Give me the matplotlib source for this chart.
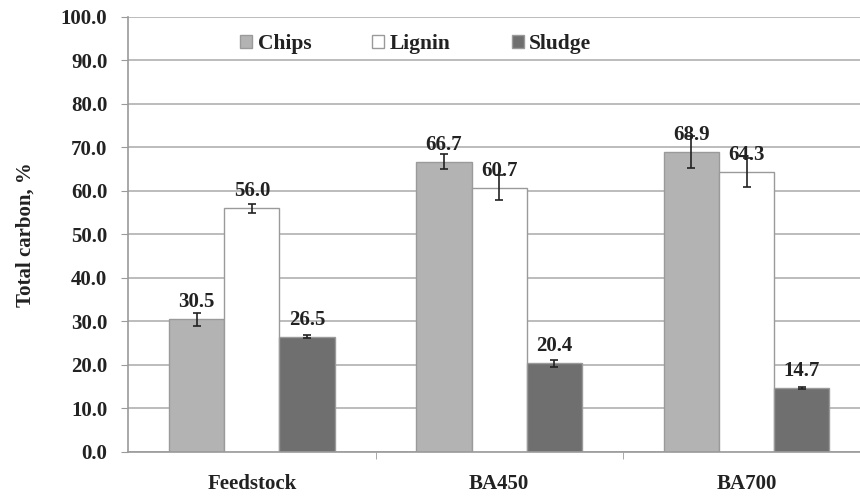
import matplotlib.pyplot as plt
import numpy as np

categories = ["Feedstock", "BA450", "BA700"]
series = ["Chips", "Lignin", "Sludge"]
chips = [30.5, 66.7, 68.9]
lignin = [56.0, 60.7, 64.3]
sludge = [26.5, 20.4, 14.7]
chips_err = [1.5, 1.7, 3.6]
lignin_err = [1.0, 2.9, 3.3]
sludge_err = [0.4, 0.8, 0.2]

colors = ["#b3b3b3", "#ffffff", "#6f6f6f"]
values = [chips, lignin, sludge]
errors = [chips_err, lignin_err, sludge_err]

plt.rcParams["font.family"] = ["Liberation Serif", "DejaVu Serif"]
plt.rcParams["font.weight"] = "bold"

fig = plt.figure(figsize=(8.6, 4.96), dpi=100)
ax = fig.add_axes([0.149, 0.089, 0.863, 0.877])

x = np.arange(len(categories))
width = 0.223
for i, (name, vals, errs, col) in enumerate(zip(series, values, errors, colors)):
    pos = x + (i - 1) * width
    ax.bar(pos, vals, width, color=col, edgecolor="#9a9a9a", linewidth=1.0,
           label=name, zorder=2)
    ax.errorbar(pos, vals, yerr=errs, fmt="none", ecolor="#222222",
                elinewidth=1.2, capsize=3, capthick=1.2, zorder=3)
    for px, v in zip(pos, vals):
        ax.annotate(f"{v:.1f}", (px, v), xytext=(0, 5), textcoords="offset points",
                    ha="center", va="bottom", fontsize=15, fontweight="bold",
                    color="#222222", zorder=4)

ax.set_xlim(-0.5, 2.5)
ax.set_ylim(0, 100)
ax.set_yticks(np.arange(0, 101, 10))
ax.set_yticklabels([f"{t:.1f}" for t in np.arange(0, 101, 10)], fontsize=15,
                   fontweight="bold", color="#222222")
ax.set_xticks(x)
ax.set_xticklabels(categories, fontsize=15, fontweight="bold", color="#222222")
ax.set_xticks([0.5, 1.5], minor=True)
ax.tick_params(axis="x", which="major", length=0, pad=16)
ax.tick_params(axis="x", which="minor", length=5, color="#9a9a9a")
ax.tick_params(axis="y", length=5, color="#9a9a9a", pad=10)
ax.set_ylabel("Total carbon, %", fontsize=15, fontweight="bold", color="#222222",
              labelpad=18)

ax.grid(axis="y", color="#b0b0b0", linewidth=1.2, zorder=0)
ax.set_axisbelow(True)
for s in ["top", "right"]:
    ax.spines[s].set_visible(False)
for s in ["left", "bottom"]:
    ax.spines[s].set_color("#9a9a9a")
    ax.spines[s].set_linewidth(1.2)

leg = ax.legend(loc="upper left", bbox_to_anchor=(0.125, 1.005), ncol=3, frameon=False,
                fontsize=15.5, handlelength=0.55, handleheight=0.55, handletextpad=0.25,
                columnspacing=2.85)
for t in leg.get_texts():
    t.set_fontweight("bold")
    t.set_color("#222222")

fig.savefig("out.png", dpi=100)
